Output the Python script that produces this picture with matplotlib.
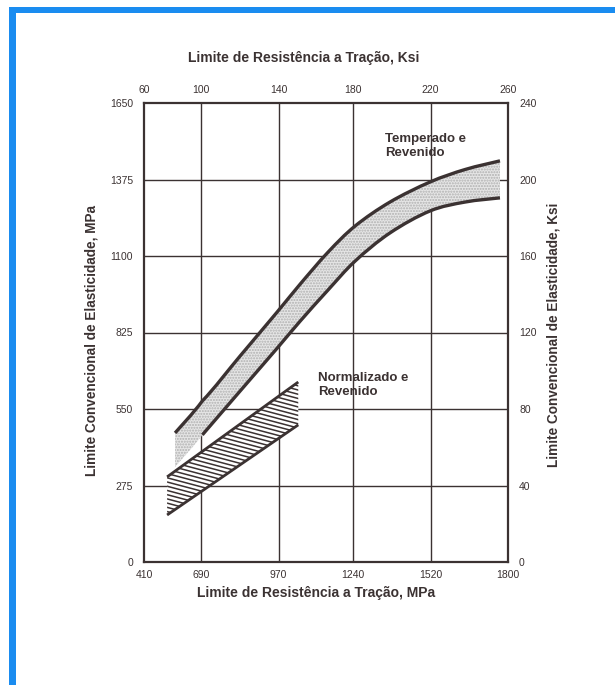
"""Limite convencional de elasticidade vs limite de resistencia a tracao,
faixas para acos temperados/revenidos e normalizados/revenidos.

Output: out.png (615x685 px)
"""
import numpy as np
import matplotlib.pyplot as plt
from matplotlib.patches import Polygon, Rectangle, PathPatch
from matplotlib.path import Path

# ── data (MPa) ────────────────────────────────────────────────────────────
mpa_ticks = [410, 690, 970, 1240, 1520, 1800]
ksi_top_ticks = [60, 100, 140, 180, 220, 260]
mpa_yticks = [0, 275, 550, 825, 1100, 1375, 1650]
ksi_yticks = [0, 40, 80, 120, 160, 200, 240]

# Temperado e Revenido band
tr_x = [562, 694, 831, 965, 1048, 1149, 1247, 1373, 1518, 1645, 1771]
tr_upper = [464, 579, 741, 899, 999, 1114, 1208, 1294, 1366, 1411, 1442]
tr_lower = [342, 457, 615, 769, 866, 978, 1082, 1183, 1262, 1294, 1309]

# Normalizado e Revenido band (straight edges)
nr_x = [523, 1041]
nr_upper = [306, 647]
nr_lower = [169, 493]

INK = "#3b3232"
BLUE = "#1a8cf0"
W, H = 615, 685

# the scanned original squeezes the 410-690 interval
K_LEFT = 0.74


def _fwd(x):
    x = np.asarray(x, dtype=float)
    return np.where(x < 690, 690 - (690 - x) * K_LEFT, x)


def _inv(x):
    x = np.asarray(x, dtype=float)
    return np.where(x < 690, 690 - (690 - x) / K_LEFT, x)


def px(x, y):
    """pixel (from top-left) -> figure fraction"""
    return x / W, 1 - y / H


def _bezier(xs, ys):
    """Catmull-Rom through the points, as cubic Bezier path pieces."""
    P = np.column_stack([xs, ys]).astype(float)
    n = len(P)
    verts, codes = [P[0]], [Path.MOVETO]
    for i in range(n - 1):
        p0 = P[i - 1] if i > 0 else P[i]
        p1, p2 = P[i], P[i + 1]
        p3 = P[i + 2] if i + 2 < n else P[i + 1]
        verts += [p1 + (p2 - p0) / 6, p2 - (p3 - p1) / 6, p2]
        codes += [Path.CURVE4] * 3
    return verts, codes


def main():
    plt.rcParams["font.family"] = ["Liberation Sans", "DejaVu Sans"]
    tick_font = ["Liberation Sans Narrow", "Liberation Sans", "DejaVu Sans"]

    fig = plt.figure(figsize=(W / 100, H / 100), dpi=100)
    fig.patch.set_facecolor("white")

    l, r, t, b = 144, 508, 103, 562
    ax = fig.add_axes([l / W, 1 - b / H, (r - l) / W, (b - t) / H])
    ax.set_xscale("function", functions=(_fwd, _inv))
    ax.set_xlim(mpa_ticks[0], mpa_ticks[-1])
    ax.set_ylim(mpa_yticks[0], mpa_yticks[-1])

    # grid
    for xv in mpa_ticks[1:-1]:
        ax.axvline(xv, color=INK, lw=1.0, zorder=1)
    for yv in mpa_yticks[1:-1]:
        ax.axhline(yv, color=INK, lw=1.0, zorder=1)

    # ── Temperado e Revenido: stippled band ──
    uv, uc = _bezier(tr_x, tr_upper)
    lv, lc = _bezier(tr_x[::-1], tr_lower[::-1])
    band = Path(uv + lv + [uv[0]], uc + [Path.LINETO] + lc[1:] + [Path.CLOSEPOLY])
    ax.add_patch(PathPatch(band, facecolor="#e6e6e6", edgecolor="#b0b0b0",
                           hatch="......", linewidth=0, zorder=2))
    ax.add_patch(PathPatch(Path(uv, uc), fill=False, edgecolor=INK, lw=2.4,
                           capstyle="butt", zorder=3))
    lv2, lc2 = _bezier(tr_x[1:], tr_lower[1:])
    ax.add_patch(PathPatch(Path(lv2, lc2), fill=False, edgecolor=INK, lw=2.4,
                           capstyle="butt", zorder=3))

    # ── Normalizado e Revenido: line-hatched band ──
    poly = Polygon([(nr_x[0], nr_upper[0]), (nr_x[1], nr_upper[1]),
                    (nr_x[1], nr_lower[1]), (nr_x[0], nr_lower[0])],
                   closed=True, facecolor="white", edgecolor="none", zorder=2)
    ax.add_patch(poly)
    slope = -0.21
    xs = np.array([0.0, 1.0])
    for c in np.arange(-0.3, 1.4, 0.0092):
        ln, = ax.plot(xs, c + slope * xs, transform=ax.transAxes,
                      color=INK, lw=1.1, zorder=2.5)
        ln.set_clip_path(poly)
    ax.plot(nr_x, nr_upper, color=INK, lw=2.0, solid_capstyle="butt", zorder=3)
    ax.plot(nr_x, nr_lower, color=INK, lw=2.0, solid_capstyle="butt", zorder=3)

    # labels inside the plot
    ax.text(1355, 1542, "Temperado e\nRevenido", fontsize=9.5, fontweight="bold",
            color=INK, ha="left", va="top", linespacing=1.25, zorder=4)
    ax.text(1113, 683, "Normalizado e\nRevenido", fontsize=9.5, fontweight="bold",
            color=INK, ha="left", va="top", linespacing=1.25, zorder=4)

    # frame + ticks
    for s in ax.spines.values():
        s.set_color(INK)
        s.set_linewidth(1.6)
    ax.set_xticks(mpa_ticks)
    ax.set_xticklabels([str(v) for v in mpa_ticks])
    ax.set_yticks(mpa_yticks)
    ax.set_yticklabels([str(v) for v in mpa_yticks])
    ax.tick_params(length=0, pad=8, labelsize=7.5, colors=INK)
    ax.tick_params(axis="x", pad=6)
    for lab in ax.get_xticklabels() + ax.get_yticklabels():
        lab.set_family(tick_font)

    # top axis: ksi
    axt = ax.twiny()
    axt.set_xscale("function", functions=(_fwd, _inv))
    axt.set_xlim(ax.get_xlim())
    axt.set_xticks(mpa_ticks)
    axt.set_xticklabels([str(v) for v in ksi_top_ticks])
    axt.tick_params(length=0, pad=6, labelsize=7.5, colors=INK)
    for lab in axt.get_xticklabels():
        lab.set_family(tick_font)
    for s in axt.spines.values():
        s.set_visible(False)

    # right axis: ksi
    axr = ax.twinx()
    axr.set_ylim(ksi_yticks[0], ksi_yticks[-1])
    axr.set_yticks(ksi_yticks)
    axr.set_yticklabels([str(v) for v in ksi_yticks])
    axr.tick_params(length=0, pad=8, labelsize=7.5, colors=INK)
    for lab in axr.get_yticklabels():
        lab.set_family(tick_font)
    for s in axr.spines.values():
        s.set_visible(False)

    # axis titles
    fig.text(*px(304, 58), "Limite de Resistência a Tração, Ksi", fontsize=10,
             fontweight="bold", color=INK, ha="center", va="center")
    fig.text(*px(316, 593), "Limite de Resistência a Tração, MPa", fontsize=10,
             fontweight="bold", color=INK, ha="center", va="center")
    fig.text(*px(92, 341), "Limite Convencional de Elasticidade, MPa", fontsize=9.8,
             fontweight="bold", color=INK, ha="center", va="center", rotation=90)
    fig.text(*px(554, 335), "Limite Convencional de Elasticidade, Ksi", fontsize=9.8,
             fontweight="bold", color=INK, ha="center", va="center", rotation=90)

    # blue frame of the scanned page (left + top only)
    fig.add_artist(Rectangle(px(9, H), 7 / W, (H - 7) / H, transform=fig.transFigure,
                             facecolor=BLUE, edgecolor="none"))
    fig.add_artist(Rectangle(px(9, 13), (W - 9) / W, 6 / H, transform=fig.transFigure,
                             facecolor=BLUE, edgecolor="none"))

    fig.savefig("out.png", dpi=100, facecolor="white")
    plt.close(fig)


if __name__ == "__main__":
    main()
